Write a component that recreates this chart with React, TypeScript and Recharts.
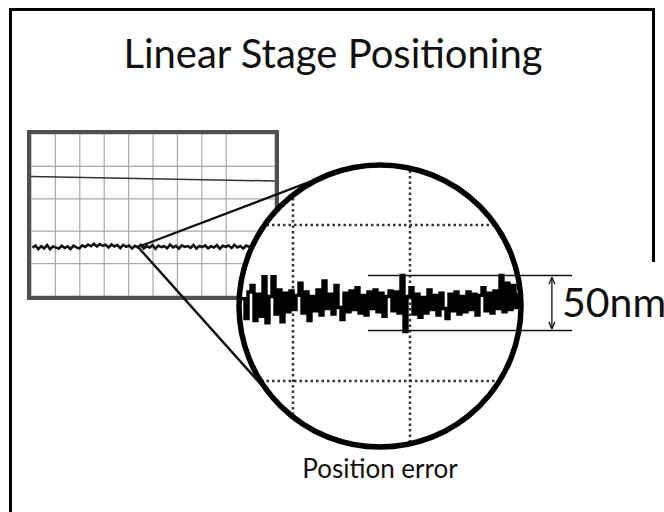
import React from "react";
import { LineChart, Line, XAxis, YAxis, CartesianGrid, ReferenceLine } from "recharts";

// oscilloscope trace (divisions), sampled every 0.12 div
const scopeTrace = [
  2.98, 3.12, 2.9, 3.08, 2.94, 3.14, 2.88, 3.06, 3.0, 2.92,
  3.1, 2.96, 3.07, 2.89, 3.11, 3.0, 2.93, 3.13, 3.03, 3.17,
  3.07, 3.22, 3.05, 3.2, 3.1, 3.16, 3.0, 3.18, 3.06, 3.14,
  2.96, 3.15, 3.04, 3.12, 2.93, 3.1, 3.0, 3.16, 2.94, 3.08,
  2.99, 3.14, 2.91, 3.11, 3.02, 3.07, 2.95, 3.17, 3.0, 3.1,
  2.92, 3.13, 3.03, 3.08, 2.97, 3.15, 2.93, 3.09, 3.02, 3.12,
  2.94, 3.07, 2.99, 3.14, 2.91, 3.1, 3.04, 3.12, 2.96, 3.16,
  3.0, 3.08, 2.93, 3.11, 3.03, 3.13, 2.95, 3.07,
];
// commanded position ramp (start / end of screen)
const rampX = [0, 10];
const rampY = [7.38, 7.1];
const divTicks = [0, 1, 2, 3, 4, 5, 6, 7, 8, 9, 10];

// magnified position error, nm
const zoomTrace = [
  4, -14, 10, 16, -16, 8, -12, 24, -18, 6,
  24, -10, 12, -17, 9, -8, 11, -6, 7, 18,
  -9, 10, -16, 6, -7, 12, -11, 20, -5, 8,
  -10, 16, -4, -15, 9, -8, 11, -6, 14, -9,
  7, -11, 10, -5, 12, -8, 9, -12, 6, 11,
  -7, 10, -9, 25, -26, 6, 14, -10, 8, -13,
  5, -9, 12, -6, 7, -11, 9, -5, -14, 8,
  -7, 10, -10, 6, -8, 10, -6, 8, -11, 7,
  14, -7, 9, -9, 11, -5, 25, -8, 18, -6,
  16, -4, 9,
];
const bandNm = [25, -25];
const zoomGridX = [17, 56];
const zoomGridY = [-71, 71];

const scopeData = scopeTrace.map((v, i) => ({ t: 0.06 + i * 0.12, v }));
const rampData = rampX.map((t, i) => ({ t, v: rampY[i] }));
const zoomData = zoomTrace.map((nm, i) => ({ i, nm }));

const CX = 380;
const CY = 306;
const R = 141;
const APEX = { x: 138, y: 247 };
const Y_DOMAIN: [number, number] = [-130.9, 125.5];
const FONT = "Lato, 'Open Sans', sans-serif";

function tangents() {
  const dx = CX - APEX.x;
  const dy = CY - APEX.y;
  const d = Math.hypot(dx, dy);
  const base = Math.atan2(dy, dx);
  const half = Math.asin(R / d);
  const len = Math.sqrt(d * d - R * R);
  return [base - half, base + half].map((a) => ({
    x: APEX.x + len * Math.cos(a),
    y: APEX.y + len * Math.sin(a),
  }));
}

const DoubleArrow = (p: any) => {
  const { x1, y1, x2, y2 } = p;
  const h = 7;
  const w = 3;
  return (
    <g>
      <line x1={x1} y1={y1 + 1} x2={x2} y2={y2 - 1} stroke="#111" strokeWidth={1.3} />
      <path d={`M${x1},${y1} l${-w},${h} M${x1},${y1} l${w},${h}`} stroke="#111" strokeWidth={1.3} fill="none" />
      <path d={`M${x2},${y2} l${-w},${-h} M${x2},${y2} l${w},${-h}`} stroke="#111" strokeWidth={1.3} fill="none" />
    </g>
  );
};

const abs = (l: number, t: number, w: number, h: number): React.CSSProperties => ({
  position: "absolute",
  left: l,
  top: t,
  width: w,
  height: h,
});

export default function App() {
  const [up, down] = tangents();
  return (
    <div style={{ ...abs(0, 0, 664, 512), overflow: "hidden", background: "#fff", fontFamily: FONT }}>
      {/* slide frame */}
      <div style={{ ...abs(9, 8, 3, 504), background: "#000" }} />
      <div style={{ ...abs(9, 8, 646, 3), background: "#000" }} />
      <div style={{ ...abs(652, 8, 3, 254), background: "#000" }} />

      <div style={{ ...abs(0, 33, 666, 44), textAlign: "center", fontSize: 40, lineHeight: "1", color: "#111", whiteSpace: "nowrap" }}>
        Linear Stage Positioning
      </div>

      {/* scope screen */}
      <div style={{ ...abs(27, 130, 244, 162), border: "4px solid #505050", background: "#fff" }}>
        <LineChart width={244} height={162} margin={{ top: 0, right: 0, bottom: 0, left: 0 }}>
          <CartesianGrid stroke="#a9a9a9" strokeWidth={1.2} />
          <XAxis type="number" dataKey="t" domain={[0, 10]} ticks={divTicks} hide />
          <YAxis type="number" domain={[0, 10]} ticks={divTicks} hide />
          <Line data={rampData} dataKey="v" stroke="#333" strokeWidth={1.5} dot={false} isAnimationActive={false} />
          <Line data={scopeData} dataKey="v" stroke="#111" strokeWidth={2.6} dot={false} isAnimationActive={false} />
        </LineChart>
      </div>

      {/* zoom cone */}
      <svg style={abs(0, 0, 664, 512)} width={664} height={512}>
        <line x1={APEX.x} y1={APEX.y} x2={up.x} y2={up.y} stroke="#111" strokeWidth={2.4} />
        <line x1={APEX.x} y1={APEX.y} x2={down.x} y2={down.y} stroke="#111" strokeWidth={2.4} />
      </svg>

      {/* magnifier: dotted grid clipped to the lens */}
      <div
        style={{
          ...abs(CX - R, CY - R, 2 * R, 2 * R),
          background: "#fff",
          clipPath: `circle(${R}px at ${R}px ${R}px)`,
        }}
      >
        <LineChart width={2 * R} height={2 * R} data={zoomData} margin={{ top: 0, right: 0, bottom: 0, left: 0 }}>
          <CartesianGrid stroke="#333" strokeWidth={2.5} strokeDasharray="2.5 3" />
          <XAxis type="number" dataKey="i" domain={[-1, 93]} ticks={zoomGridX} hide />
          <YAxis type="number" dataKey="nm" domain={Y_DOMAIN} ticks={zoomGridY} allowDataOverflow hide />
        </LineChart>
      </div>

      <svg style={abs(0, 0, 664, 512)} width={664} height={512}>
        <circle cx={CX} cy={CY} r={R} fill="none" stroke="#000" strokeWidth={5.5} />
      </svg>

      {/* magnified trace + 50nm band */}
      <div style={abs(CX - R, CY - R, 341, 2 * R)}>
        <LineChart width={341} height={2 * R} data={zoomData} margin={{ top: 0, right: 0, bottom: 0, left: 0 }}>
          <XAxis type="number" dataKey="i" domain={[-1, -1 + 341 / 3]} hide />
          <YAxis type="number" domain={Y_DOMAIN} allowDataOverflow hide />
          <Line type="stepAfter" dataKey="nm" stroke="#000" strokeWidth={3.4} dot={false} isAnimationActive={false} />
          {bandNm.map((b) => (
            <ReferenceLine key={b} segment={[{ x: 42, y: b }, { x: 110, y: b }]} stroke="#111" strokeWidth={1.5} />
          ))}
          <ReferenceLine
            segment={[{ x: 103.3, y: bandNm[0] - 1.5 }, { x: 103.3, y: bandNm[1] + 1.5 }]}
            shape={DoubleArrow}
          />
        </LineChart>
      </div>

      <div style={{ ...abs(562, 281, 140, 44), fontSize: 41, lineHeight: "1", color: "#111", whiteSpace: "nowrap" }}>
        50nm
      </div>
      <div style={{ ...abs(280, 455, 200, 30), textAlign: "center", fontSize: 26, lineHeight: "1", color: "#111", whiteSpace: "nowrap" }}>
        Position error
      </div>
    </div>
  );
}
